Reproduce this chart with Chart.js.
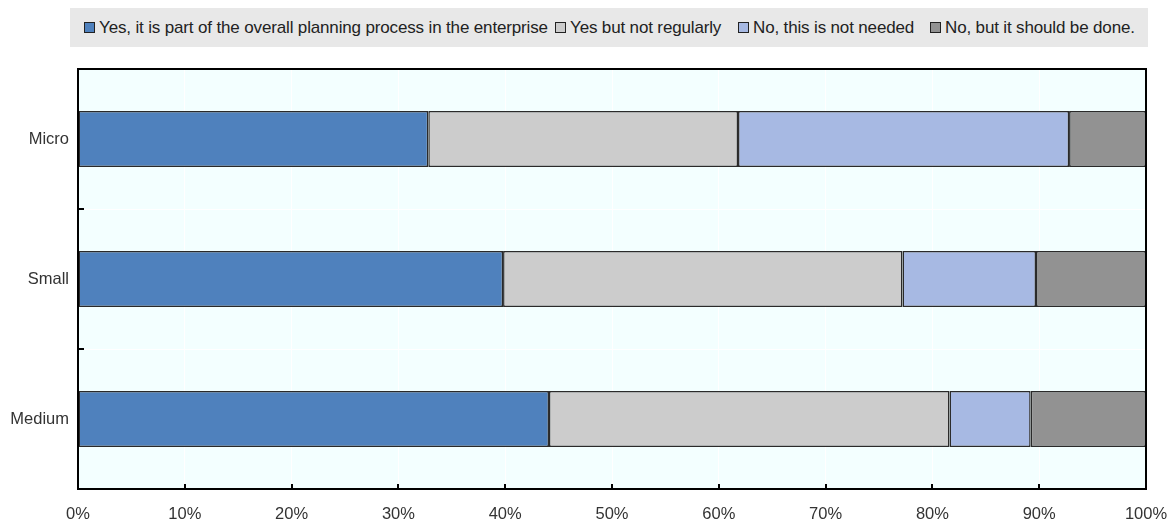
<!DOCTYPE html>
<html>
<head>
<meta charset="utf-8">
<script src="https://cdn.jsdelivr.net/npm/chart.js@4/dist/chart.umd.min.js"></script>
<style>
  html, body { margin: 0; padding: 0; background: #ffffff; }
  #wrap { position: relative; width: 1173px; height: 524px; }
  #legend { position: absolute; left: 70px; top: 8px; width: 1078px; height: 39px; background: #e8e8e8; }
  .item { position: absolute; top: 0; height: 39px; display: flex; align-items: center; font-family: "Liberation Sans", Arial, sans-serif; font-size: 17px; color: #222; white-space: nowrap; letter-spacing: -0.15px; }
  .sw { width: 9px; height: 9px; border: 1px solid #222; margin-right: 4px; }
  canvas { position: absolute; left: 0; top: 0; }
</style>
</head>
<body>
<div id="wrap">
  <canvas id="c" width="1173" height="524"></canvas>
  <div id="legend"></div>
</div>
<script>
const categories = ['Micro', 'Small', 'Medium'];
const seriesNames = [
  'Yes, it is part of the overall planning process in the enterprise',
  'Yes but not regularly',
  'No, this is not needed',
  'No, but it should be done.'
];
const yesPart = [32.8, 39.8, 44.1];
const yesNotRegularly = [29.0, 37.4, 37.5];
const noNotNeeded = [31.0, 12.5, 7.6];
const noShouldBeDone = [7.2, 10.3, 10.8];
const xTickValues = [0, 10, 20, 30, 40, 50, 60, 70, 80, 90, 100];

const colors = ['#4f81bd', '#cccccc', '#a7b9e3', '#929292'];
const legendLefts = [84, 555, 738, 930];

const seriesData = [yesPart, yesNotRegularly, noNotNeeded, noShouldBeDone];

// HTML legend
const lg = document.getElementById('legend');
seriesNames.forEach((name, i) => {
  const it = document.createElement('div');
  it.className = 'item';
  it.style.left = (legendLefts[i] - 70) + 'px';
  const sw = document.createElement('div');
  sw.className = 'sw';
  sw.style.background = colors[i];
  const tx = document.createElement('span');
  tx.textContent = name;
  it.appendChild(sw);
  it.appendChild(tx);
  lg.appendChild(it);
});

const bgPlugin = {
  id: 'bgPlugin',
  beforeDraw(chart) {
    const { ctx, chartArea: a } = chart;
    ctx.save();
    ctx.fillStyle = '#f3ffff';
    ctx.fillRect(a.left, a.top, a.right - a.left, a.bottom - a.top);
    ctx.restore();
  },
  afterDatasetsDraw(chart) {
    const { ctx, chartArea: a, scales } = chart;
    ctx.save();
    ctx.strokeStyle = '#000';
    ctx.lineWidth = 2;
    ctx.strokeRect(a.left, a.top, a.right - a.left, a.bottom - a.top);
    xTickValues.forEach(v => {
      const x = Math.round(scales.x.getPixelForValue(v));
      ctx.beginPath();
      ctx.moveTo(x, a.bottom);
      ctx.lineTo(x, a.bottom - 5);
      ctx.stroke();
    });
    for (let i = 0; i < categories.length - 1; i++) {
      const y = Math.round((scales.y.getPixelForValue(i) + scales.y.getPixelForValue(i + 1)) / 2);
      ctx.beginPath();
      ctx.moveTo(a.left, y);
      ctx.lineTo(a.left + 6, y);
      ctx.stroke();
    }
    ctx.restore();
  }
};

new Chart(document.getElementById('c'), {
  type: 'bar',
  data: {
    labels: categories,
    datasets: seriesNames.map((n, i) => ({
      label: n,
      data: seriesData[i],
      backgroundColor: colors[i],
      borderColor: '#2a2a2a',
      borderWidth: 1.5,
      borderSkipped: false,
      barPercentage: 0.4,
      categoryPercentage: 1.0
    }))
  },
  options: {
    indexAxis: 'y',
    responsive: false,
    animation: false,
    devicePixelRatio: 1,
    layout: { padding: { top: 69, right: 27, left: 0, bottom: 0 } },
    plugins: { legend: { display: false }, tooltip: { enabled: false } },
    scales: {
      x: {
        stacked: true,
        min: 0, max: 100,
        afterFit(s) { s.height = 35; s.paddingLeft = 0; s.paddingRight = 0; },
        afterBuildTicks(s) { s.ticks = xTickValues.map(v => ({ value: v })); },
        border: { display: false },
        grid: { color: '#ffffff', lineWidth: 1, drawTicks: false },
        ticks: {
          padding: 16,
          color: '#333333',
          font: { family: 'Liberation Sans, Arial, sans-serif', size: 16.5 },
          callback: v => v + '%'
        }
      },
      y: {
        stacked: true,
        afterFit(s) { s.width = 78; s.paddingTop = 0; s.paddingBottom = 0; },
        border: { display: false },
        grid: { color: '#ffffff', lineWidth: 1, drawTicks: false, offset: true },
        ticks: {
          padding: 9,
          color: '#333333',
          font: { family: 'Liberation Sans, Arial, sans-serif', size: 16.5 }
        }
      }
    }
  },
  plugins: [bgPlugin]
});
</script>
</body>
</html>
